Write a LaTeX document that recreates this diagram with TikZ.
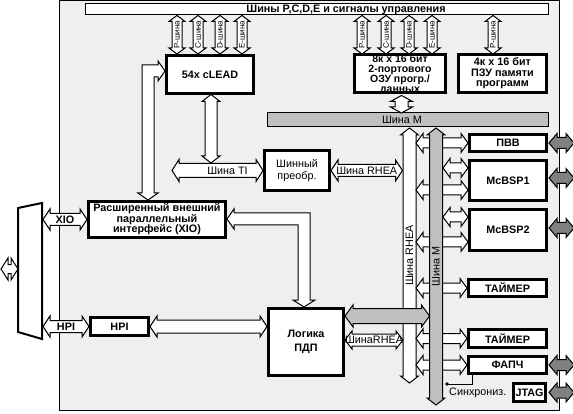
\documentclass[tikz,border=0pt]{standalone}
\usepackage{fontspec}
\setmainfont{Liberation Sans}
\usetikzlibrary{calc}
\definecolor{chipbg}{HTML}{EFEFEF}
\definecolor{busgray}{HTML}{C0C0C0}
\newcommand\fsz{\fontsize{10.8}{11}\selectfont}
\def\asw{6pt}\def\ahw{10pt}\def\ahl{7pt}
\tikzset{
  arr sw/.store in=\asw, arr hw/.store in=\ahw, arr hl/.store in=\ahl,
  box/.style={draw, line width=3pt, fill=white, inner sep=0pt, align=center, font=\bfseries\fsz},
  hollow/.style={draw, fill=white, line width=1pt, line join=miter},
  grayarr/.style={fill=busgray},
  extarr/.style={fill=gray, arr sw=5.5pt, arr hw=9.5pt, arr hl=8pt},
  lbl/.style={font=\fsz, inner sep=0pt},
  arrlbl/.style={},
  pb/.style={arr sw=5pt, arr hw=8pt, arr hl=6pt, arrlbl/.style={font=\fontsize{8}{8}\selectfont}},
  pa/.style={arr sw=5pt, arr hw=9.5pt, arr hl=7pt},
  vb/.style={arr sw=6.5pt, arr hw=9pt, arr hl=7pt},
}
% horizontal double arrow: left point, right point (y of left point)
\newcommand\harr[4][]{%
  \draw[hollow,#1] let \p1=#2, \p2=#3 in
    (\x1,\y1) -- (\x1+\ahl,\y1+\ahw) -- (\x1+\ahl,\y1+\asw) -- (\x2-\ahl,\y1+\asw)
    -- (\x2-\ahl,\y1+\ahw) -- (\x2,\y1) -- (\x2-\ahl,\y1-\ahw) -- (\x2-\ahl,\y1-\asw)
    -- (\x1+\ahl,\y1-\asw) -- (\x1+\ahl,\y1-\ahw) -- cycle
    ({(\x1+\x2)/2},\y1) node[lbl,arrlbl] {#4};}
% vertical double arrow: top point, bottom point (x of top point)
\newcommand\varr[4][]{%
  \draw[hollow,#1] let \p1=#2, \p2=#3 in
    (\x1,\y1) -- (\x1+\ahw,\y1-\ahl) -- (\x1+\asw,\y1-\ahl) -- (\x1+\asw,\y2+\ahl)
    -- (\x1+\ahw,\y2+\ahl) -- (\x1,\y2) -- (\x1-\ahw,\y2+\ahl) -- (\x1-\asw,\y2+\ahl)
    -- (\x1-\asw,\y1-\ahl) -- (\x1-\ahw,\y1-\ahl) -- cycle
    (\x1,{(\y1+\y2)/2}) node[lbl,rotate=90,arrlbl] {#4};}
\begin{document}
\begin{tikzpicture}[x=1pt,y=-1pt]
\useasboundingbox (0,0) rectangle (573,414);
\fill[white] (0,0) rectangle (573,414);
\draw[fill=chipbg, line width=1pt] (59,0.5) rectangle (559,410);

% top bus
\node[draw, line width=1pt, fill=white, minimum width=463, minimum height=11, inner sep=0pt] (topbus) at (316.5,9.5) {};
\node[lbl, font=\bfseries\fsz] (toplbl) at (346,9.5) {Шины P,C,D,E и сигналы управления};

% blocks
\node[box, minimum width=87, minimum height=38] (clead) at (210,74.5) {54x cLEAD};
\node[box, minimum width=91, minimum height=38] (ram) at (400,73.5) {};
\node[lbl, align=center, font=\bfseries\fontsize{10.5}{10}\selectfont] (ramtxt) at (400,75) {8к x 16 бит\\2-портового\\ОЗУ прогр./\\данных};
\node[box, minimum width=88, minimum height=38, font=\bfseries\fontsize{10.8}{10.5}\selectfont] (rom) at (502.5,73.5) {4к x 16 бит\\ПЗУ памяти\\программ};
\node[box, minimum width=65, minimum height=40, font=\fontsize{10.8}{12}\selectfont] (conv) at (297,170.5) {Шинный\\преобр.};
\node[box, minimum width=137, minimum height=36, font=\bfseries\fontsize{10.8}{10.5}\selectfont] (xio) at (157,219.5) {Расширенный внешний\\параллельный\\интерфейс (XIO)};
\node[box, minimum width=58, minimum height=18] (hpi) at (119.5,326.5) {HPI};
\node[box, minimum width=75, minimum height=67, font=\bfseries\fontsize{10.8}{14}\selectfont] (dma) at (306,342) {Логика\\ПДП};
\node[box, minimum width=77, minimum height=17] (pvv) at (508,143) {ПВВ};
\node[box, minimum width=77, minimum height=40] (bsp1) at (508,180.5) {McBSP1};
\node[box, minimum width=77, minimum height=41] (bsp2) at (508,230) {McBSP2};
\node[box, minimum width=78, minimum height=17] (tim1) at (507.5,288) {ТАЙМЕР};
\node[box, minimum width=78, minimum height=18] (tim2) at (507.5,338.5) {ТАЙМЕР};
\node[box, minimum width=78, minimum height=17] (pll) at (507.5,365) {ФАПЧ};
\node[box, minimum width=32, minimum height=18] (jtag) at (529.5,392.5) {JTAG};

% horizontal M bus
\node[draw, line width=1pt, fill=busgray, minimum width=281, minimum height=14, inner sep=0pt] (mbus) at (407.5,120) {};
\node[lbl] (mbuslbl) at (402,120) {Шина M};

% P,C,D,E bus arrows
\foreach \xx/\lab in {177/P,198/C,220/D,242/E,362/P,386/C,409/D,432/E,493/P}
  \varr[pb]{(\xx,15.5)}{(\xx,54)}{\lab-шина};

% RAM -> M bus
\varr[arr sw=6.5pt, arr hw=11pt, arr hl=6pt]{(401.5,95.5)}{(401.5,113)}{};

% L arrows
\draw[hollow] (165,71) -- (158,61) -- (158,65) -- (142,65) -- (142,193) -- (138,193) -- (148,200)
  -- (158,193) -- (154,193) -- (154,77) -- (158,77) -- (158,81) -- cycle;
\draw[hollow] (227,219) -- (234,209) -- (234,213) -- (310,213) -- (310,300) -- (315,300) -- (304,307)
  -- (293,300) -- (298,300) -- (298,225) -- (234,225) -- (234,229) -- cycle;

% cLEAD <-> TI bus
\varr[arr sw=6pt, arr hw=9pt]{(211,94.5)}{(211,163)}{};
\harr[arr sw=7pt, arr hw=11pt, arrlbl/.style={xshift=10pt}]{(172,170.5)}{(conv.west)}{Шина TI};
\harr[arr sw=6pt, arr hw=10.5pt]{(conv.east)}{(402.5,170.5)}{Шина RHEA};

% external buses
\draw[line width=2pt, fill=white, line join=miter] (18,208) -- (42,203) -- (42,339) -- (18,332) -- cycle;
\harr[arr sw=4.5pt, arr hw=11pt, arr hl=7pt]{(1,269)}{(18,269)}{};
\harr[arr sw=6pt, arr hw=10.5pt]{(43,219.5)}{(xio.west)}{\bfseries XIO};
\harr[arr sw=6pt, arr hw=10.5pt]{(43,326.5)}{(hpi.west)}{\bfseries HPI};
\harr[arr sw=6.5pt, arr hw=10.5pt]{(hpi.east)}{(dma.west)}{};

% vertical RHEA bus and its links
\varr[vb]{(409.5,128)}{(409.5,383)}{Шина RHEA};
\harr[pa]{(416,143)}{(pvv.west)}{};
\harr[pa]{(416,190)}{(468,190)}{};
\harr[pa]{(416,242)}{(468,242)}{};
\harr[pa]{(416,288)}{(tim1.west)}{};
\harr[pa]{(416,338.5)}{(tim2.west)}{};
\harr[pa]{(416,365)}{(pll.west)}{};
\harr[arr sw=6pt, arr hw=9pt]{(345,340)}{(403,340)}{ШинаRHEA};

% vertical M bus and its links
\varr[vb, grayarr]{(436,128)}{(436,405)}{Шина M};
\harr[pa]{(443,168)}{(468,168)}{};
\harr[pa]{(443,217)}{(468,217)}{};
\harr[grayarr, arr sw=7.5pt, arr hw=11pt, arr hl=8pt]{(345,316)}{(429.5,316)}{};

% external gray arrows
\foreach \yy in {143,178,228,365,392.5}
  \harr[extarr]{(549,\yy)}{(574,\yy)}{};

% sync line
\coordinate (syncdot) at (447,384);
\draw[line width=1pt] ([xshift=5pt]pll.south west) |- (syncdot);
\fill (syncdot) circle (1.8pt);
\node[lbl, anchor=west] (sync) at (449,393) {Синхрониз.};
\end{tikzpicture}
\end{document}
